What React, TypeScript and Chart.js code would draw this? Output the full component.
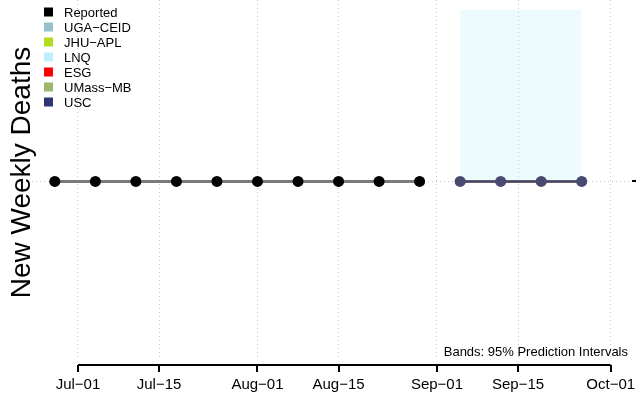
import React, { useEffect, useRef } from "react";
import { Chart, registerables } from "chart.js";

Chart.register(...registerables);

// ---- data ----
const reportedDates = ["06-27", "07-04", "07-11", "07-18", "07-25", "08-01", "08-08", "08-15", "08-22", "08-29"];
const reportedDeaths = [0, 0, 0, 0, 0, 0, 0, 0, 0, 0];

const forecastDates = ["09-05", "09-12", "09-19", "09-26"];
const ugaCeid = [0, 0, 0, 0];
const jhuApl = [0, 0, 0, 0];
const lnq = [0, 0, 0, 0];
const esg = [0, 0, 0, 0];
const umassMb = [0, 0, 0, 0];
const usc = [0, 0, 0, 0];
const bandLower = [0, 0, 0, 0];
const bandUpper = [1, 1, 1, 1];

const legendNames = ["Reported", "UGA\u2212CEID", "JHU\u2212APL", "LNQ", "ESG", "UMass\u2212MB", "USC"];
const legendColors = ["#000000", "#98C1CF", "#B4DC1E", "#BFEFFF", "#FF0000", "#9CB86A", "#2F3770"];

const tickDates = ["07-01", "07-15", "08-01", "08-15", "09-01", "09-15", "10-01"];
const tickLabels = ["Jul\u221201", "Jul\u221215", "Aug\u221201", "Aug\u221215", "Sep\u221201", "Sep\u221215", "Oct\u221201"];

const xMin = -7.94;
const xMax = 95.68;
const yMin = -1.035;
const yMax = 1.058;

const yTitle = "New Weekly Deaths";
const bandNote = "Bands: 95% Prediction Intervals";

const FONT = "'Liberation Sans', Arial, Helvetica, sans-serif";

function dayOf(md: string): number {
  const [m, d] = md.split("-").map(Number);
  return Math.round((Date.UTC(2020, m - 1, d) - Date.UTC(2020, 6, 1)) / 86400000);
}

function pts(dates: string[], vals: number[]) {
  return dates.map((d, i) => ({ x: dayOf(d), y: vals[i] }));
}

const tickDays = tickDates.map(dayOf);

const overlayPlugin = {
  id: "overlay",
  afterDraw(chart: any) {
    const ctx = chart.ctx;
    const area = chart.chartArea;
    const xs = chart.scales.x;
    const ys = chart.scales.y;
    ctx.save();
    // R-style x axis
    const y0 = area.bottom + 6;
    ctx.strokeStyle = "#000";
    ctx.lineWidth = 2;
    ctx.beginPath();
    ctx.moveTo(xs.getPixelForValue(tickDays[0]), y0);
    ctx.lineTo(xs.getPixelForValue(tickDays[tickDays.length - 1]), y0);
    ctx.stroke();
    tickDays.forEach((d) => {
      const px = Math.round(xs.getPixelForValue(d));
      ctx.beginPath();
      ctx.moveTo(px, y0);
      ctx.lineTo(px, y0 + 7);
      ctx.stroke();
    });
    // right-side axis tick at zero
    const zy = Math.round(ys.getPixelForValue(0));
    ctx.beginPath();
    ctx.moveTo(area.right, zy);
    ctx.lineTo(area.right + 4, zy);
    ctx.stroke();
    // legend
    ctx.font = `13px ${FONT}`;
    ctx.textBaseline = "middle";
    ctx.textAlign = "left";
    legendNames.forEach((name, i) => {
      const cy = 12 + i * 15;
      ctx.fillStyle = legendColors[i];
      ctx.fillRect(44, cy - 4.5, 9, 9);
      ctx.fillStyle = "#000";
      ctx.fillText(name, 64, cy + 1);
    });
    // band note
    ctx.textAlign = "right";
    ctx.textBaseline = "alphabetic";
    ctx.font = `13px ${FONT}`;
    ctx.fillText(bandNote, area.right - 4, area.bottom - 3);
    // y title
    ctx.translate(30, (area.top + area.bottom) / 2 - 7);
    ctx.rotate(-Math.PI / 2);
    ctx.textAlign = "center";
    ctx.font = `28px ${FONT}`;
    ctx.fillText(yTitle, 0, 0);
    ctx.restore();
  },
};

export default function App() {
  const ref = useRef<HTMLCanvasElement | null>(null);
  useEffect(() => {
    if (!ref.current) return;
    const modelLine = (label: string, vals: number[], color: string, order: number) => ({
      label,
      data: pts(forecastDates, vals),
      borderColor: color,
      borderWidth: 2,
      pointRadius: 0,
      fill: false,
      order,
    });
    const chart = new Chart(ref.current, {
      type: "line",
      data: {
        datasets: [
          {
            label: "lower",
            data: pts(forecastDates, bandLower),
            borderWidth: 0,
            pointRadius: 0,
            fill: false,
            order: 20,
          },
          {
            label: "upper",
            data: pts(forecastDates, bandUpper),
            borderWidth: 0,
            pointRadius: 0,
            fill: "-1",
            backgroundColor: "rgba(191,239,255,0.28)",
            order: 19,
          },
          modelLine("UGA-CEID", ugaCeid, legendColors[1], 8),
          modelLine("JHU-APL", jhuApl, legendColors[2], 7),
          modelLine("LNQ", lnq, legendColors[3], 6),
          modelLine("ESG", esg, "#b04040", 5),
          modelLine("UMass-MB", umassMb, legendColors[5], 4),
          {
            label: "USC",
            data: pts(forecastDates, usc),
            borderColor: "#4a4468",
            borderWidth: 2.5,
            pointRadius: 5.5,
            pointBorderWidth: 0,
            pointBackgroundColor: "#474b70",
            fill: false,
            order: 2,
          },
          {
            label: "Reported",
            data: pts(reportedDates, reportedDeaths),
            borderColor: "#7a7a7a",
            borderWidth: 3,
            pointRadius: 5.5,
            pointBorderWidth: 0,
            pointBackgroundColor: "#000",
            fill: false,
            order: 1,
          },
        ],
      },
      options: {
        animation: false,
        responsive: true,
        maintainAspectRatio: false,
        layout: { autoPadding: false, padding: { left: 32, top: 0, right: 4, bottom: 3 } },
        plugins: { legend: { display: false }, tooltip: { enabled: false } },
        scales: {
          x: {
            type: "linear",
            min: xMin,
            max: xMax,
            afterBuildTicks: (s: any) => {
              s.ticks = tickDays.map((v) => ({ value: v }));
            },
            afterFit: (s: any) => {
              s.paddingLeft = 0;
              s.paddingRight = 0;
            },
            ticks: {
              autoSkip: false,
              maxRotation: 0,
              padding: 4,
              color: "#000",
              font: { family: FONT, size: 15 },
              callback: (v: any) => {
                const i = tickDays.indexOf(Number(v));
                return i >= 0 ? tickLabels[i] : "";
              },
            },
            grid: {
              color: "#c8c8c8",
              lineWidth: 1,
              drawTicks: true,
              tickLength: 13,
              tickColor: "rgba(0,0,0,0)",
            },
            border: { display: false, dash: [1, 3] },
          },
          y: {
            type: "linear",
            position: "left",
            min: yMin,
            max: yMax,
            afterBuildTicks: (s: any) => {
              s.ticks = [{ value: 0 }];
            },
            ticks: { display: false },
            grid: { color: "#c8c8c8", lineWidth: 1, drawTicks: false },
            border: { display: false, dash: [1, 3] },
          },
        },
      },
      plugins: [overlayPlugin],
    } as any);
    return () => chart.destroy();
  }, []);
  return (
    <div style={{ position: "fixed", left: 0, top: 0, width: 636, height: 401, background: "#fff" }}>
      <canvas ref={ref} />
    </div>
  );
}
